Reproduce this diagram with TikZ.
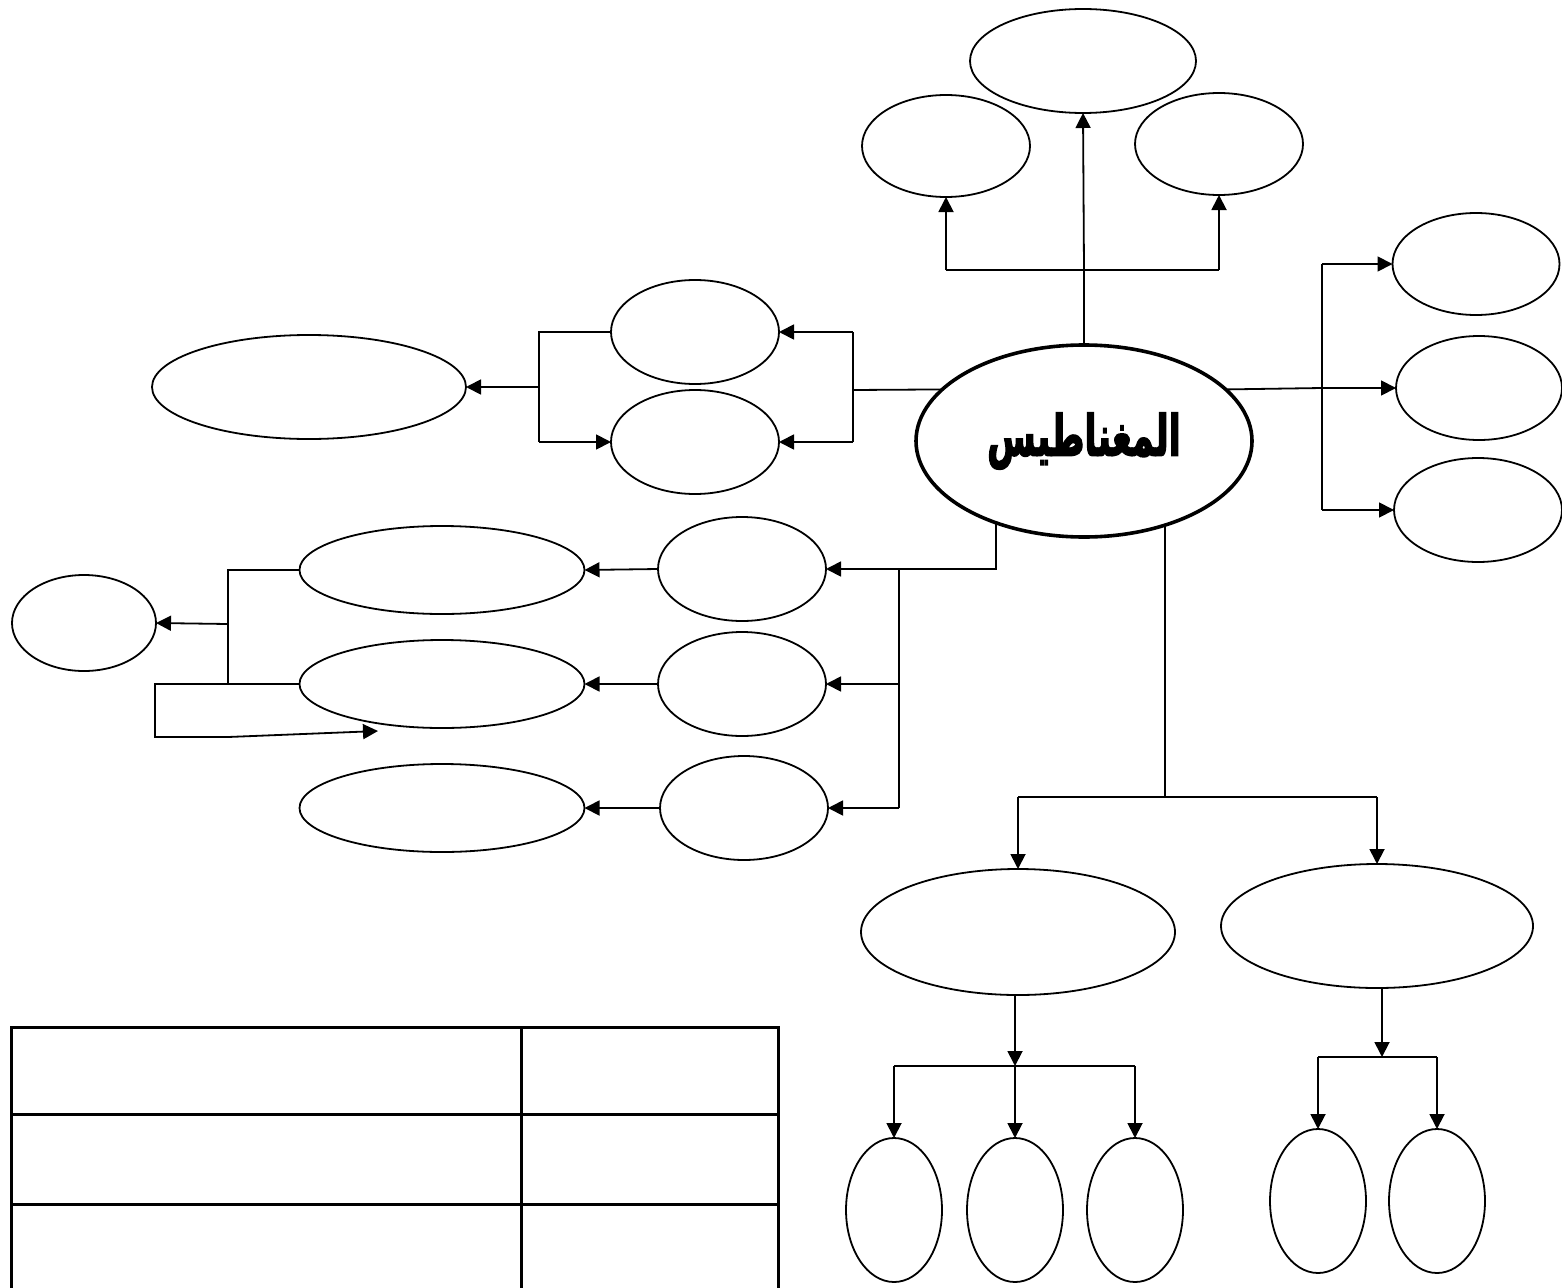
\documentclass[tikz,border=0pt]{standalone}
\usepackage{fontspec}
\newfontfamily\arabicheavy[Script=Arabic,FakeBold=3.5]{DejaVu Sans Bold}
\TeXXeTstate=1
\usetikzlibrary{shapes.geometric,arrows.meta}
\begin{document}
\begin{tikzpicture}[x=1pt,y=-1pt,
  ov/.style 2 args={draw,ellipse,line width=1.8pt,inner sep=0pt,outer sep=0pt,minimum width=#1,minimum height=#2},
  ln/.style={line width=1.8pt},
  arr/.style={line width=1.8pt,-{Triangle[length=15pt,width=15pt]}},
  tab/.style={line width=3pt}]
\useasboundingbox (0,0) rectangle (1562,1287);
% central node
\node[ov={336pt}{192pt},line width=3.6pt,font=\arabicheavy\fontsize{40}{48}\selectfont] (C) at (1084,441) {\raisebox{-6pt}{\scalebox{0.88}[1.4]{\beginR المغناطيس\endR}}};
% top
\node[ov={226pt}{104pt}] (T1) at (1083,61) {};
\node[ov={168pt}{102pt}] (T2) at (946,146) {};
\node[ov={168pt}{102pt}] (T3) at (1219,144) {};
% right
\node[ov={167pt}{102pt}] (R1) at (1476,264) {};
\node[ov={166pt}{104pt}] (R2) at (1479,388) {};
\node[ov={168pt}{104pt}] (R3) at (1478,510) {};
% upper left
\node[ov={168pt}{104pt}] (L1) at (695,332) {};
\node[ov={168pt}{104pt}] (L2) at (695,442) {};
\node[ov={314pt}{104pt}] (LL) at (309,387) {};
% middle left
\node[ov={168pt}{104pt}] (M1) at (742,569) {};
\node[ov={168pt}{104pt}] (M2) at (742,684) {};
\node[ov={168pt}{104pt}] (M3) at (744,808) {};
\node[ov={285pt}{88pt}] (E1) at (442,570) {};
\node[ov={285pt}{88pt}] (E2) at (442,684) {};
\node[ov={285pt}{88pt}] (E3) at (442,808) {};
\node[ov={144pt}{96pt}] (S) at (84,623) {};
% bottom right
\node[ov={314pt}{126pt}] (B1) at (1018,932) {};
\node[ov={312pt}{124pt}] (B2) at (1377,926) {};
\node[ov={96pt}{144pt}] (O1) at (894,1210) {};
\node[ov={96pt}{144pt}] (O2) at (1015,1210) {};
\node[ov={96pt}{144pt}] (O3) at (1135,1210) {};
\node[ov={96pt}{144pt}] (O4) at (1318,1201) {};
\node[ov={96pt}{144pt}] (O5) at (1437,1201) {};
% junctions
\coordinate (jT) at (1084,270);
\coordinate (jR) at (1322,388);
\coordinate (jL) at (853,390);
\coordinate (jLL) at (539,390);
\coordinate (jM) at (899,690);
\coordinate (jS) at (228,624);
\coordinate (w1) at (155,737);
\coordinate (w2) at (228,737);
\coordinate (w3) at (378,731);
\coordinate (jB) at (1164,797);
\coordinate (jO) at (1015,1066);
\coordinate (jP) at (1382,1057);
% top connectors
\draw[ln] (C.north) -- (jT);
\draw[ln] (T2.south |- jT) -- (T3.south |- jT);
\draw[arr] (T2.south |- jT) -- (T2.south);
\draw[arr] (jT) -- (T1.south);
\draw[arr] (T3.south |- jT) -- (T3.south);
% right connectors
\draw[ln] (C.20.7) -- (jR);
\draw[ln] (R1.west -| jR) -- (R3.west -| jR);
\draw[arr] (R1.west -| jR) -- (R1.west);
\draw[arr] (R2.west -| jR) -- (R2.west);
\draw[arr] (R3.west -| jR) -- (R3.west);
% upper left connectors
\draw[ln] (C.160.2) -- (jL);
\draw[ln] (L1.east -| jL) -- (L2.east -| jL);
\draw[arr] (L1.east -| jL) -- (L1.east);
\draw[arr] (L2.east -| jL) -- (L2.east);
\draw[ln] (L1.west) -- (L1.west -| jLL) -- (L2.west -| jLL);
\draw[arr] (L2.west -| jLL) -- (L2.west);
\draw[arr] (LL.east -| jLL) -- (LL.east);
% middle left connectors
\draw[arr] (C.223) |- (M1.east);
\draw[ln] (M1.east -| jM) -- (M3.east -| jM);
\draw[arr] (M2.east -| jM) -- (M2.east);
\draw[arr] (M3.east -| jM) -- (M3.east);
\draw[arr] (M1.west) -- (E1.east);
\draw[arr] (M2.west) -- (E2.east);
\draw[arr] (M3.west) -- (E3.east);
\draw[ln] (E1.west) -- (E1.west -| jS) -- (E2.west -| jS);
\draw[arr] (jS) -- (S.east);
\draw[arr] (E2.west) -| (w1) -- (w2) -- (w3);
% bottom connectors
\draw[ln] (C.-46.4) -- (C.-46.4 |- jB);
\draw[ln] (B1.north |- jB) -- (B2.north |- jB);
\draw[arr] (B1.north |- jB) -- (B1.north);
\draw[arr] (B2.north |- jB) -- (B2.north);
\draw[arr] (jO |- B1.south) -- (jO);
\draw[ln] (O1.north |- jO) -- (O3.north |- jO);
\draw[arr] (O1.north |- jO) -- (O1.north);
\draw[arr] (O2.north |- jO) -- (O2.north);
\draw[arr] (O3.north |- jO) -- (O3.north);
\draw[arr] (jP |- B2.south) -- (jP);
\draw[ln] (O4.north |- jP) -- (O5.north |- jP);
\draw[arr] (O4.north |- jP) -- (O4.north);
\draw[arr] (O5.north |- jP) -- (O5.north);
% table
\draw[tab] (11,1292) -- (11,1027) -- (778,1027) -- (778,1292);
\draw[tab] (11,1114) -- (778,1114);
\draw[tab] (11,1204) -- (778,1204);
\draw[tab] (521,1027) -- (521,1292);
\end{tikzpicture}
\end{document}
